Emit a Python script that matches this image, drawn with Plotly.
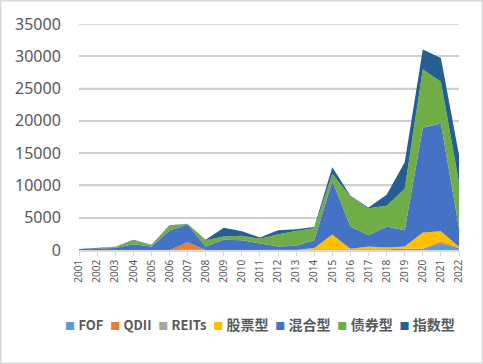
import plotly.graph_objects as go

years = [str(y) for y in range(2001, 2023)]

fof    = [0, 0, 0, 0, 0, 0, 0, 0, 0, 0, 0, 0, 0, 0, 0, 0, 50, 100, 200, 200, 1000, 300]
qdii   = [0, 0, 0, 0, 0, 0, 1200, 0, 0, 0, 0, 0, 0, 0, 0, 0, 0, 0, 0, 50, 300, 80]
reits  = [0, 0, 0, 0, 0, 0, 0, 0, 0, 0, 0, 0, 0, 0, 0, 0, 0, 0, 0, 0, 50, 20]
stock  = [0, 0, 0, 0, 0, 0, 0, 0, 0, 0, 0, 0, 50, 300, 2400, 200, 500, 300, 350, 2450, 1550, 100]
mixed  = [150, 250, 300, 900, 550, 3000, 2800, 550, 1600, 1500, 1000, 550, 600, 1200,
          8300, 3450, 1750, 3250, 2500, 16250, 16700, 2900]
bond   = [0, 0, 200, 620, 220, 750, 50, 950, 500, 700, 750, 1900, 2300, 1850,
          1100, 4650, 4150, 3200, 6450, 9050, 6450, 7050]
index_ = [0, 50, 0, 60, 30, 100, 0, 100, 1350, 700, 200, 600, 250, 200,
          1000, 100, 150, 1700, 4100, 3050, 3700, 4250]

y_ticks = [0, 5000, 10000, 15000, 20000, 25000, 30000, 35000]

names = ["FOF", "QDII", "REITs", "股票型", "混合型", "债券型", "指数型"]
series = [fof, qdii, reits, stock, mixed, bond, index_]
colors = ["#5B9BD5", "#ED7D31", "#A5A5A5", "#FFC000", "#4472C4", "#70AD47", "#255E91"]

W, H = 483, 364
ml, mr, mt, mb = 79, 24, 24, 114
pw, ph = W - ml - mr, H - mt - mb
grid_color = "#CFCFCF"

fig = go.Figure()
for n, s, c in zip(names, series, colors):
    fig.add_trace(go.Scatter(
        x=years, y=s, name=n, mode="lines", stackgroup="one",
        line=dict(width=0, color=c), fillcolor=c, showlegend=False,
        hoverinfo="x+y+name",
    ))


def item(n, c):
    size = 13 if n.isascii() else 14
    return (f"<span style='color:{c};font-size:10px'>■</span> "
            f"<span style='font-size:{size}px'><b>{n}</b></span>")


legend_text = "  ".join(item(n, c) for n, c in zip(names, colors))

grid_shapes = [dict(
    type="line", xref="paper", yref="y", x0=0, x1=1, y0=v, y1=v,
    line=dict(color=grid_color, width=1.5), layer="below",
) for v in y_ticks[1:]]

border = dict(
    type="rect", xref="paper", yref="paper",
    x0=(0.75 - ml) / pw, x1=1 + (mr - 0.75) / pw,
    y0=-(mb - 0.75) / ph, y1=1 + (mt - 0.75) / ph,
    line=dict(color="#D9D9D9", width=1.5), fillcolor="rgba(0,0,0,0)", layer="above",
)

fig.update_layout(
    template="none",
    width=W, height=H,
    margin=dict(l=ml, r=mr, t=mt, b=mb),
    paper_bgcolor="white", plot_bgcolor="white",
    font=dict(family="Noto Sans CJK SC", color="#595959"),
    xaxis=dict(
        type="category", range=[0, len(years) - 1], automargin=False,
        showgrid=False, showline=True, linecolor="#D9D9D9", linewidth=1.5,
        ticks="outside", ticklen=4, tickcolor="#D9D9D9",
        tickangle=-90, tickfont=dict(size=10, color="#595959", family="Noto Sans"),
    ),
    yaxis=dict(
        range=[0, 35000], tickmode="array", tickvals=y_ticks, tickformat="d",
        automargin=False,
        showgrid=True, gridcolor=grid_color, gridwidth=1.5,
        zeroline=False, showline=False,
        ticks="outside", ticklen=14, tickcolor="rgba(0,0,0,0)",
        tickfont=dict(size=16, color="#595959", family="Noto Sans"),
    ),
    annotations=[dict(
        text=legend_text, xref="paper", yref="paper",
        x=(260 - ml) / pw, y=(mt + ph - 323) / ph, xanchor="center", yanchor="middle",
        showarrow=False, font=dict(size=15, color="#595959", family="Noto Sans CJK SC"),
    )],
    shapes=grid_shapes + [border],
)

fig.write_html("out.html", config={"displayModeBar": False},
               post_script="document.body.style.margin='0';document.body.style.overflow='hidden';")
